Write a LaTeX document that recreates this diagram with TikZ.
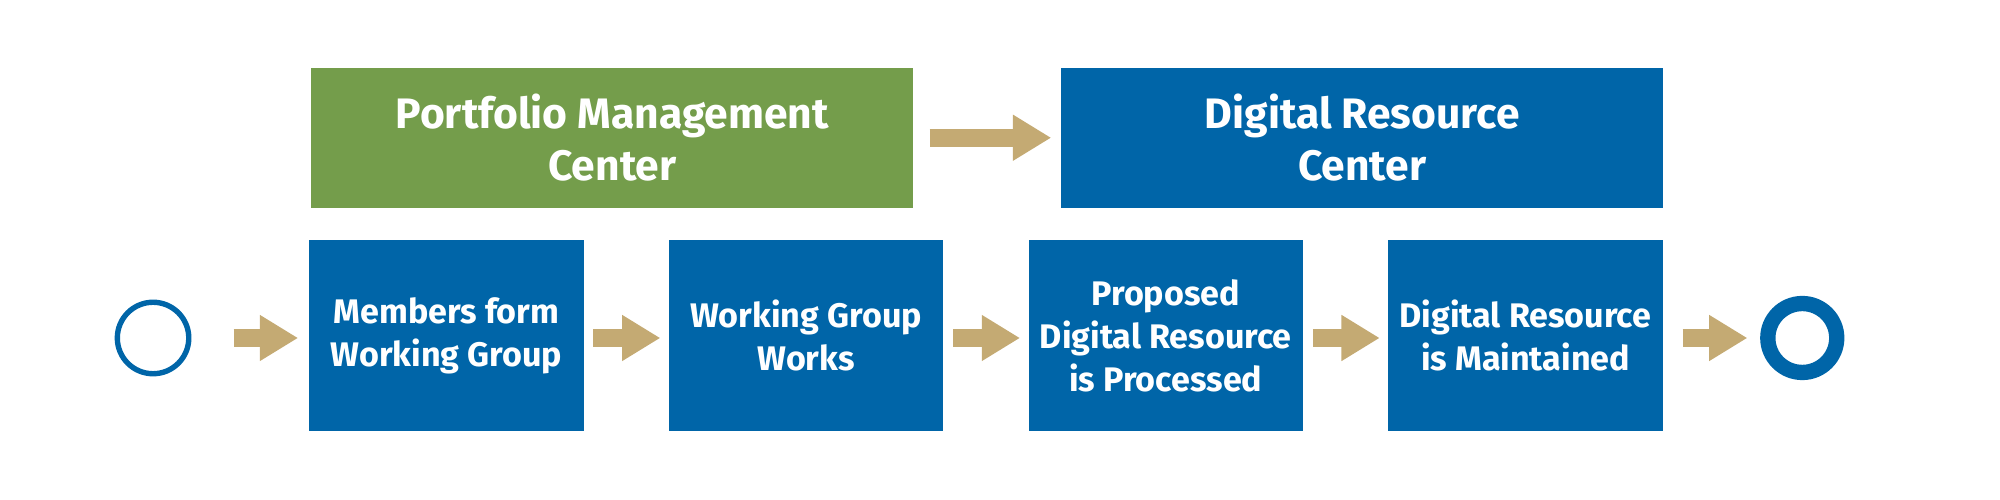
\documentclass[tikz,border=0pt]{standalone}
\usepackage{fontspec}
\setmainfont{Fira Sans}
\usetikzlibrary{arrows.meta}
\definecolor{pmcgreen}{RGB}{116,157,75}
\definecolor{drcblue}{RGB}{0,101,168}
\definecolor{flowtan}{RGB}{196,170,115}
\begin{document}
\begin{tikzpicture}[x=0.01cm, y=-0.01cm,
  unitbox/.style={fill=#1, text=white, minimum width=4.72cm, minimum height=1.1cm,
    align=center, font=\fontsize{9.5}{11.5}\selectfont\bfseries, inner sep=0},
  task/.style={fill=drcblue, text=white, minimum width=2.15cm, minimum height=1.5cm,
    align=center, font=\fontsize{7.6}{9.6}\selectfont\bfseries, inner sep=0},
  flow/.style={draw=flowtan, line width=0.14cm, -{Triangle[width=0.34cm,length=0.3cm]}}]
  \useasboundingbox (0,0) rectangle (1568,392);
  % centers
  \node[unitbox=pmcgreen] (pmc) at (480,108) {Portfolio Management\\Center};
  \node[unitbox=drcblue] (drc) at (1068,108) {Digital Resource\\Center};
  % tasks
  \node[draw=drcblue, line width=1.2pt, circle, minimum size=0.56cm, inner sep=0] (start) at (120,265) {};
  \node[task] (form) at (350,263) {Members form\\Working Group};
  \node[task] (works) at (632,263) {Working Group\\Works};
  \node[task] (proc) at (914,263) {Proposed\\Digital Resource\\is Processed};
  \node[task] (maint) at (1196,263) {Digital Resource\\is Maintained};
  \node[draw=drcblue, line width=0.12cm, circle, minimum size=0.54cm, inner sep=0] (stop) at (1413,265) {};
  % flow arrows
  \draw[flow, shorten <=0.12cm, shorten >=0.07cm] (pmc) -- (drc);
  \draw[flow, shorten <=0.33cm, shorten >=0.08cm] (start) -- (form.west |- start);
  \draw[flow, shorten <=0.07cm, shorten >=0.06cm] (form.east |- start) -- (works.west |- start);
  \draw[flow, shorten <=0.07cm, shorten >=0.06cm] (works.east |- start) -- (proc.west |- start);
  \draw[flow, shorten <=0.07cm, shorten >=0.06cm] (proc.east |- start) -- (maint.west |- start);
  \draw[flow, shorten <=0.15cm, shorten >=0.10cm] (maint.east |- start) -- (stop);
\end{tikzpicture}
\end{document}
